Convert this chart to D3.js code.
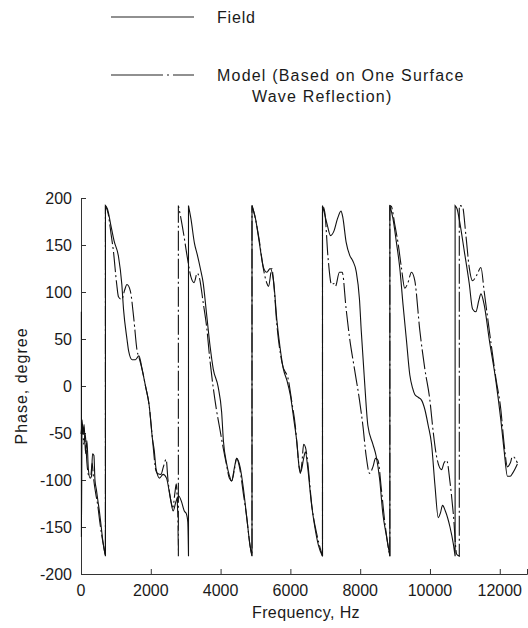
<!DOCTYPE html>
<html>
<head>
<meta charset="utf-8">
<script src="https://cdn.jsdelivr.net/npm/d3@7"></script>
<style>
  body { margin: 0; background: #fff; }
  text { font-family: "Liberation Sans", Arial, sans-serif; fill: #1a1a1a; }
</style>
</head>
<body>
<div id="chart"></div>
<script>
// phase wraps around; a repeated frequency marks a vertical jump
var fieldFreq = [10, 12, 30, 60, 90, 130, 170, 210, 260, 300, 330, 370, 400, 440, 480, 530, 580, 630, 700,
  700, 760, 850, 950, 1073, 1170, 1220, 1317, 1366, 1463, 1560, 1658, 1756, 1853, 1951, 2050, 2100, 2150, 2250, 2350, 2450, 2550, 2640, 2720, 2800, 2880, 2960, 3020, 3060, 3080,
  3080, 3150, 3250, 3330, 3420, 3500, 3600, 3700, 3790, 3930, 4030, 4080, 4170, 4250, 4317, 4400, 4460, 4557, 4650, 4750, 4845, 4900,
  4900, 5000, 5100, 5230, 5325, 5420, 5517, 5613, 5700, 5800, 5900, 6000, 6100, 6180, 6250, 6300, 6380, 6430, 6500, 6600, 6700, 6800, 6920,
  6920, 6980, 7053, 7150, 7250, 7350, 7450, 7500, 7597, 7700, 7790, 7885, 7980, 8030, 8125, 8220, 8365, 8460, 8557, 8650, 8750, 8850,
  8850, 8940, 9037, 9133, 9229, 9325, 9421, 9500, 9565, 9660, 9757, 9853, 9949, 10045, 10141, 10237, 10300, 10360, 10440, 10573, 10669, 10720,
  10720, 10780, 10840, 10985, 11125, 11220, 11315, 11400, 11460, 11555, 11700, 11890, 12030, 12125, 12220, 12300, 12365, 12440, 12505];
var fieldPhase = [79, -160, -36, -51, -41, -72, -58, -88, -98, -96, -72, -74, -100, -110, -121, -134, -150, -166, -181,
  192, 188, 172, 154, 138, 108, 81, 50, 37, 28, 28, 32, 17, -1, -20, -57, -69, -88, -98, -94, -98, -117, -133, -123, -117, -123, -133, -136, -145, -181,
  192, 178, 152, 140, 125, 110, 76, 42, 18, -1, -28, -58, -82, -95, -101, -86, -77, -86, -108, -140, -170, -181,
  192, 178, 155, 126, 121, 125, 112, 70, 42, 18, 6, -10, -36, -58, -86, -91, -77, -70, -88, -124, -150, -169, -181,
  192, 183, 172, 160, 165, 178, 186, 180, 153, 139, 133, 122, 92, 59, 5, -42, -62, -75, -99, -136, -159, -181,
  192, 178, 153, 126, 86, 49, 12, -2, -9, -12, -15, -25, -42, -62, -105, -140, -135, -127, -133, -150, -168, -181,
  192, 188, 177, 143, 109, 82, 79, 91, 98, 86, 49, 5, -36, -69, -96, -96, -93, -88, -83];

var modelFreq = [0, 40, 80, 120, 170, 220, 280, 320, 360, 420, 480, 540, 600, 660, 700,
  700, 780, 860, 927, 1024, 1073, 1170, 1250, 1317, 1415, 1512, 1610, 1658, 1756, 1853, 1951, 2050, 2146, 2195, 2290, 2360, 2440, 2490, 2560, 2634, 2690, 2730, 2760, 2780, 2790,
  2790, 2850, 2940, 3050, 3150, 3240, 3330, 3400, 3500, 3600, 3690, 3790, 3880, 3980, 4080, 4170, 4250, 4320, 4400, 4460, 4550, 4650, 4750, 4840, 4900,
  4900, 4980, 5100, 5230, 5320, 5373, 5470, 5520, 5613, 5757, 5950, 6045, 6140, 6190, 6285, 6330, 6380, 6430, 6477, 6620, 6765, 6920,
  6920, 6985, 7080, 7180, 7245, 7290, 7405, 7485, 7597, 7693, 7837, 7980, 8077, 8173, 8270, 8365, 8440, 8510, 8605, 8700, 8797, 8850,
  8850, 8893, 8990, 9085, 9181, 9277, 9370, 9469, 9565, 9709, 9853, 9997, 10093, 10189, 10333, 10400, 10477, 10573, 10669, 10765, 10840,
  10840, 10930, 11030, 11125, 11220, 11340, 11460, 11555, 11700, 11890, 12030, 12125, 12220, 12300, 12365, 12440, 12505];
var modelPhase = [-51, -41, -62, -51, -82, -95, -95, -82, -98, -114, -127, -145, -160, -173, -181,
  192, 183, 162, 144, 108, 95, 92, 102, 108, 101, 72, 37, 31, 17, -1, -20, -57, -90, -93, -94, -86, -78, -99, -119, -129, -114, -104, -124, -150, -181,
  192, 181, 162, 136, 116, 110, 120, 114, 89, 63, 29, -2, -25, -46, -67, -84, -98, -101, -88, -77, -88, -114, -140, -169, -181,
  192, 181, 157, 124, 110, 106, 125, 110, 65, 25, 5, -18, -42, -62, -93, -82, -62, -65, -75, -129, -159, -181,
  192, 185, 136, 108, 109, 106, 121, 121, 82, 52, 18, -15, -42, -75, -93, -86, -77, -79, -109, -143, -170, -181,
  192, 191, 172, 152, 126, 104, 110, 121, 112, 59, 18, -15, -49, -75, -89, -82, -79, -102, -136, -179, -181,
  192, 191, 160, 126, 112, 118, 126, 100, 59, 8, -25, -62, -86, -82, -75, -77, -82];

var yTicks = [-200, -150, -100, -50, 0, 50, 100, 150, 200];
var xTicks = [0, 2000, 4000, 6000, 8000, 10000, 12000];

var W = 528, H = 628;
var svg = d3.select("#chart").append("svg")
    .attr("width", W)
    .attr("height", H);

var x = d3.scaleLinear().domain([0, 12780]).range([81, 527]);
var y = d3.scaleLinear().domain([-200, 200]).range([574, 198]);

// axes, ticks pointing inwards
svg.append("g")
    .attr("transform", "translate(81,0)")
    .call(d3.axisRight(y).tickValues(yTicks).tickSize(5).tickFormat(""))
    .call(function(g) { g.selectAll("path,line").attr("stroke", "#333"); });
svg.append("g")
    .attr("transform", "translate(0,574)")
    .call(d3.axisTop(x).tickValues(xTicks).tickSize(5).tickFormat(""))
    .call(function(g) { g.selectAll("path,line").attr("stroke", "#333"); });

svg.selectAll(".ylab")
    .data(yTicks)
    .enter()
    .append("text")
    .attr("class", "ylab")
    .attr("x", 72)
    .attr("y", function(d) { return y(d); })
    .attr("dy", "0.35em")
    .style("text-anchor", "end")
    .style("font-size", "16px")
    .text(function(d) { return d; });

svg.selectAll(".xlab")
    .data(xTicks)
    .enter()
    .append("text")
    .attr("class", "xlab")
    .attr("x", function(d) { return x(d); })
    .attr("y", 596)
    .style("text-anchor", "middle")
    .style("font-size", "16px")
    .text(function(d) { return d; });

svg.append("text")
    .attr("x", 306)
    .attr("y", 618)
    .style("text-anchor", "middle")
    .style("font-size", "16px")
    .style("letter-spacing", "0.4px")
    .text("Frequency, Hz");

svg.append("text")
    .attr("transform", "translate(27,386) rotate(-90)")
    .style("text-anchor", "middle")
    .style("font-size", "16px")
    .style("letter-spacing", "1px")
    .text("Phase, degree");

// one path per series; runs between jumps are smoothed, jumps stay straight
var line = d3.line()
    .x(function(d) { return x(d[0]); })
    .y(function(d) { return y(d[1]); })
    .curve(d3.curveMonotoneX);

function buildPath(freq, phase) {
  var runs = [], cur = [];
  for (var i = 0; i < freq.length; i++) {
    if (i > 0 && freq[i] === freq[i - 1]) { runs.push(cur); cur = []; }
    cur.push([freq[i], phase[i]]);
  }
  runs.push(cur);
  return runs.map(function(r, k) {
    var s = line(r);
    return k === 0 ? s : "L" + s.slice(1);
  }).join("");
}

svg.append("path")
    .attr("d", buildPath(fieldFreq, fieldPhase))
    .attr("fill", "none")
    .attr("stroke", "#111")
    .attr("stroke-width", 1.1);

svg.append("path")
    .attr("d", buildPath(modelFreq, modelPhase))
    .attr("fill", "none")
    .attr("stroke", "#111")
    .attr("stroke-width", 1.1)
    .attr("stroke-dasharray", "20,3,2,3");

// legend
svg.append("line")
    .attr("x1", 111).attr("x2", 194).attr("y1", 17).attr("y2", 17)
    .attr("stroke", "#222").attr("stroke-width", 1.1);
svg.append("text")
    .attr("x", 217).attr("y", 17).attr("dy", "0.35em")
    .style("font-size", "16px")
    .style("letter-spacing", "0.8px")
    .text("Field");

svg.append("line")
    .attr("x1", 111).attr("x2", 194).attr("y1", 75).attr("y2", 75)
    .attr("stroke", "#222").attr("stroke-width", 1.1)
    .attr("stroke-dasharray", "52,4,2,4");
svg.append("text")
    .attr("x", 217).attr("y", 75).attr("dy", "0.35em")
    .style("font-size", "16px")
    .style("letter-spacing", "1.2px")
    .text("Model (Based on One Surface");
svg.append("text")
    .attr("x", 252).attr("y", 96).attr("dy", "0.35em")
    .style("font-size", "16px")
    .style("letter-spacing", "1.2px")
    .text("Wave Reflection)");
</script>
</body>
</html>
